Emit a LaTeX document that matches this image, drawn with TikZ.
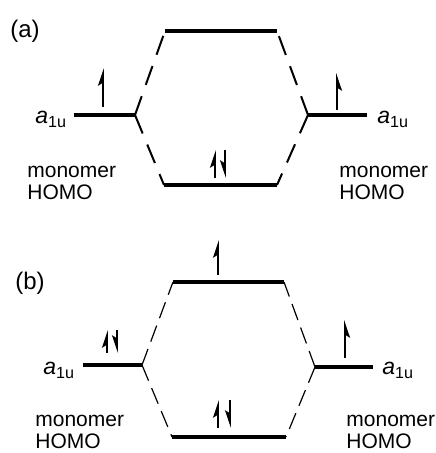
\documentclass[tikz,border=0pt]{standalone}
\usepackage{fontspec}
\setmainfont{Liberation Sans}
\usetikzlibrary{arrows.meta}

\begin{document}
\begin{tikzpicture}[x=0.5pt,y=0.5pt,
  orbital/.style={line width=1.6pt},
  corrA/.style={line width=1pt,dash pattern=on 10pt off 6pt},
  corrB/.style={line width=0.6pt,dash pattern=on 8.5pt off 4pt},
  spin/.style={line width=0.9pt,-{Stealth[harpoon,length=7.5pt,width=5pt,inset=1.5pt]}},
  spinswap/.style={line width=0.9pt,-{Stealth[harpoon,swap,length=7.5pt,width=5pt,inset=1.5pt]}},
  lbl/.style={font=\fontsize{10.5}{11}\selectfont,align=left,inner sep=0pt},
  sym/.style={font=\fontsize{11.5}{12}\selectfont,inner sep=0pt},
  tag/.style={font=\fontsize{12}{14}\selectfont,inner sep=0pt}]
  \useasboundingbox (0,0) rectangle (435,453);

  % (a)
  \node[tag] (tagA) at (25,422) {(a)};
  \coordinate (aL1) at (74,338);  \coordinate (aL2) at (135,338);
  \coordinate (aR1) at (308,338); \coordinate (aR2) at (367,338);
  \coordinate (aT1) at (165,422); \coordinate (aT2) at (277,422);
  \coordinate (aB1) at (164,268); \coordinate (aB2) at (277,268);
  \draw[orbital] (aL1) -- (aL2);
  \draw[orbital] (aR1) -- (aR2);
  \draw[orbital] (aT1) -- (aT2);
  \draw[orbital] (aB1) -- (aB2);
  \draw[corrA] (aL2) -- (aT1);
  \draw[corrA] (aL2) -- (aB1);
  \draw[corrA] (aR1) -- (aT2);
  \draw[corrA] (aR1) -- (aB2);
  \draw[spin] (103,346) -- (103,385);
  \draw[spinswap] (337,343) -- (337,380);
  \draw[spin] (215,275) -- (215,303);
  \draw[spinswap] (225,303) -- (225,275);
  \node[sym,anchor=base west] (aSymL) at (35,329) {\textit{a}\textsubscript{1u}};
  \node[sym,anchor=base west] (aSymR) at (377,329) {\textit{a}\textsubscript{1u}};
  \node[lbl,anchor=base west] (aHomoL) at (27,253) {monomer\\HOMO};
  \node[lbl,anchor=base west] (aHomoR) at (339,253) {monomer\\HOMO};

  % (b)
  \node[tag] (tagB) at (30,170) {(b)};
  \coordinate (bL1) at (83,88);   \coordinate (bL2) at (142,88);
  \coordinate (bR1) at (315,86);  \coordinate (bR2) at (373,86);
  \coordinate (bT1) at (173,171); \coordinate (bT2) at (284,171);
  \coordinate (bB1) at (172,16);  \coordinate (bB2) at (286,16);
  \draw[orbital] (bL1) -- (bL2);
  \draw[orbital] (bR1) -- (bR2);
  \draw[orbital] (bT1) -- (bT2);
  \draw[orbital] (bB1) -- (bB2);
  \draw[corrB] (bL2) -- (bT1);
  \draw[corrB] (bL2) -- (bB1);
  \draw[corrB] (bR1) -- (bT2);
  \draw[corrB] (bR1) -- (bB2);
  \draw[spin] (107,100) -- (107,123);
  \draw[spinswap] (117,123) -- (117,100);
  \draw[spin] (218,178) -- (218,213);
  \draw[spin] (218,25) -- (218,53);
  \draw[spinswap] (230,53) -- (230,25);
  \draw[spinswap] (345,95) -- (345,133);
  \node[sym,anchor=base west] (bSymL) at (43,78) {\textit{a}\textsubscript{1u}};
  \node[sym,anchor=base west] (bSymR) at (382,78) {\textit{a}\textsubscript{1u}};
  \node[lbl,anchor=base west] (bHomoL) at (35,4) {monomer\\HOMO};
  \node[lbl,anchor=base west] (bHomoR) at (346,4) {monomer\\HOMO};
\end{tikzpicture}
\end{document}
